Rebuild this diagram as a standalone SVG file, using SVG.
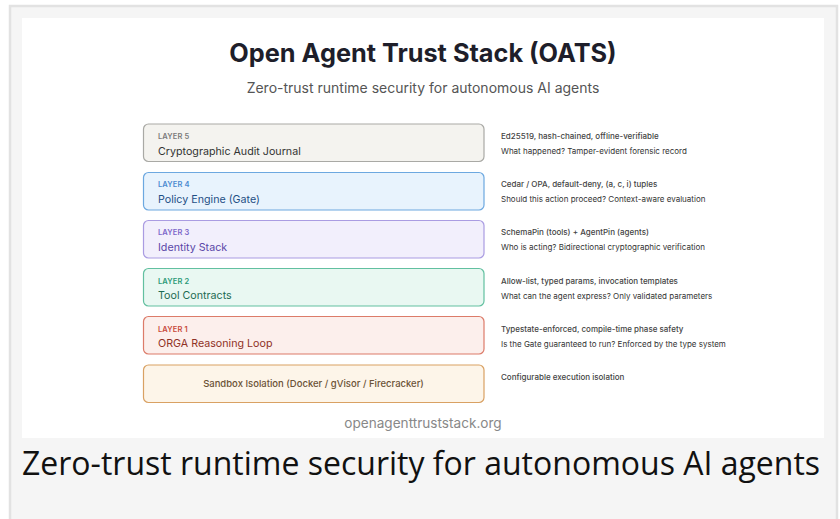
<svg xmlns="http://www.w3.org/2000/svg" width="840" height="519" viewBox="0 0 840 519">
<style>
.t{font-family:Inter,"Liberation Sans",sans-serif}
.lbl{font-size:7.5px;font-weight:600;letter-spacing:0.1px}
.name{font-size:10.7px;font-weight:400}
.d1{font-size:8px;fill:#444;font-weight:500}
.d2{font-size:8px;fill:#333}
.box{stroke-width:1.2}
</style>
<rect x="10" y="6" width="827" height="520" fill="#f5f5f5" stroke="#e2e2e2" stroke-width="2.5"/>
<rect x="22" y="18" width="802" height="420" fill="#ffffff"/>
<text class="t" x="423" y="62" text-anchor="middle" font-size="25.3" font-weight="700" fill="#1e1e2a">Open Agent Trust Stack (OATS)</text>
<text class="t" x="423" y="93" text-anchor="middle" font-size="14" fill="#555">Zero-trust runtime security for autonomous AI agents</text>
<g id="layer5">
<rect class="box" x="143.5" y="124" width="340.5" height="37.5" rx="5" fill="#f4f3ef" stroke="#a9a9a5"/>
<text class="t lbl" x="158" y="139" fill="#7a7a7a">LAYER 5</text>
<text class="t name" x="158" y="155" fill="#333">Cryptographic Audit Journal</text>
<text class="t d1" x="501" y="139">Ed25519, hash-chained, offline-verifiable</text>
<text class="t d2" x="501" y="154">What happened? Tamper-evident forensic record</text>
</g>
<g id="layer4">
<rect class="box" x="143.5" y="172.5" width="340.5" height="37.5" rx="5" fill="#e8f3fd" stroke="#6ca8e0"/>
<text class="t lbl" x="158" y="187" fill="#4a8ad0">LAYER 4</text>
<text class="t name" x="158" y="203" fill="#1f4f85">Policy Engine (Gate)</text>
<text class="t d1" x="501" y="187">Cedar / OPA, default-deny, (a, c, i) tuples</text>
<text class="t d2" x="501" y="202">Should this action proceed? Context-aware evaluation</text>
</g>
<g id="layer3">
<rect class="box" x="143.5" y="220.5" width="340.5" height="37.5" rx="5" fill="#f2effc" stroke="#aa9ce2"/>
<text class="t lbl" x="158" y="235" fill="#7b66c9">LAYER 3</text>
<text class="t name" x="158" y="251" fill="#5a47a8">Identity Stack</text>
<text class="t d1" x="501" y="235">SchemaPin (tools) + AgentPin (agents)</text>
<text class="t d2" x="501" y="250">Who is acting? Bidirectional cryptographic verification</text>
</g>
<g id="layer2">
<rect class="box" x="143.5" y="268.5" width="340.5" height="37.5" rx="5" fill="#e9f8f2" stroke="#62c0a0"/>
<text class="t lbl" x="158" y="284" fill="#2b9a77">LAYER 2</text>
<text class="t name" x="158" y="299" fill="#1d6b52">Tool Contracts</text>
<text class="t d1" x="501" y="284">Allow-list, typed params, invocation templates</text>
<text class="t d2" x="501" y="299">What can the agent express? Only validated parameters</text>
</g>
<g id="layer1">
<rect class="box" x="143.5" y="316.5" width="340.5" height="37.5" rx="5" fill="#fcefec" stroke="#dc7b69"/>
<text class="t lbl" x="158" y="332" fill="#c84a3a">LAYER 1</text>
<text class="t name" x="158" y="347" fill="#8f3226">ORGA Reasoning Loop</text>
<text class="t d1" x="501" y="332">Typestate-enforced, compile-time phase safety</text>
<text class="t d2" x="501" y="347">Is the Gate guaranteed to run? Enforced by the type system</text>
</g>
<g id="sandbox">
<rect class="box" x="143.5" y="365" width="340.5" height="37.5" rx="5" fill="#fdf5e9" stroke="#d9a163"/>
<text class="t" x="313.5" y="386.5" text-anchor="middle" font-size="9.5" font-weight="500" fill="#6b5236">Sandbox Isolation (Docker / gVisor / Firecracker)</text>
<text class="t d1" x="501" y="380">Configurable execution isolation</text>
</g>
<g id="connectors"></g>
<text class="t" x="423" y="428" text-anchor="middle" font-size="13.6" fill="#888">openagenttruststack.org</text>
<text x="22" y="475" font-family="'Open Sans','Noto Sans',sans-serif" font-size="32" fill="#111">Zero-trust runtime security for autonomous AI agents</text>
</svg>
